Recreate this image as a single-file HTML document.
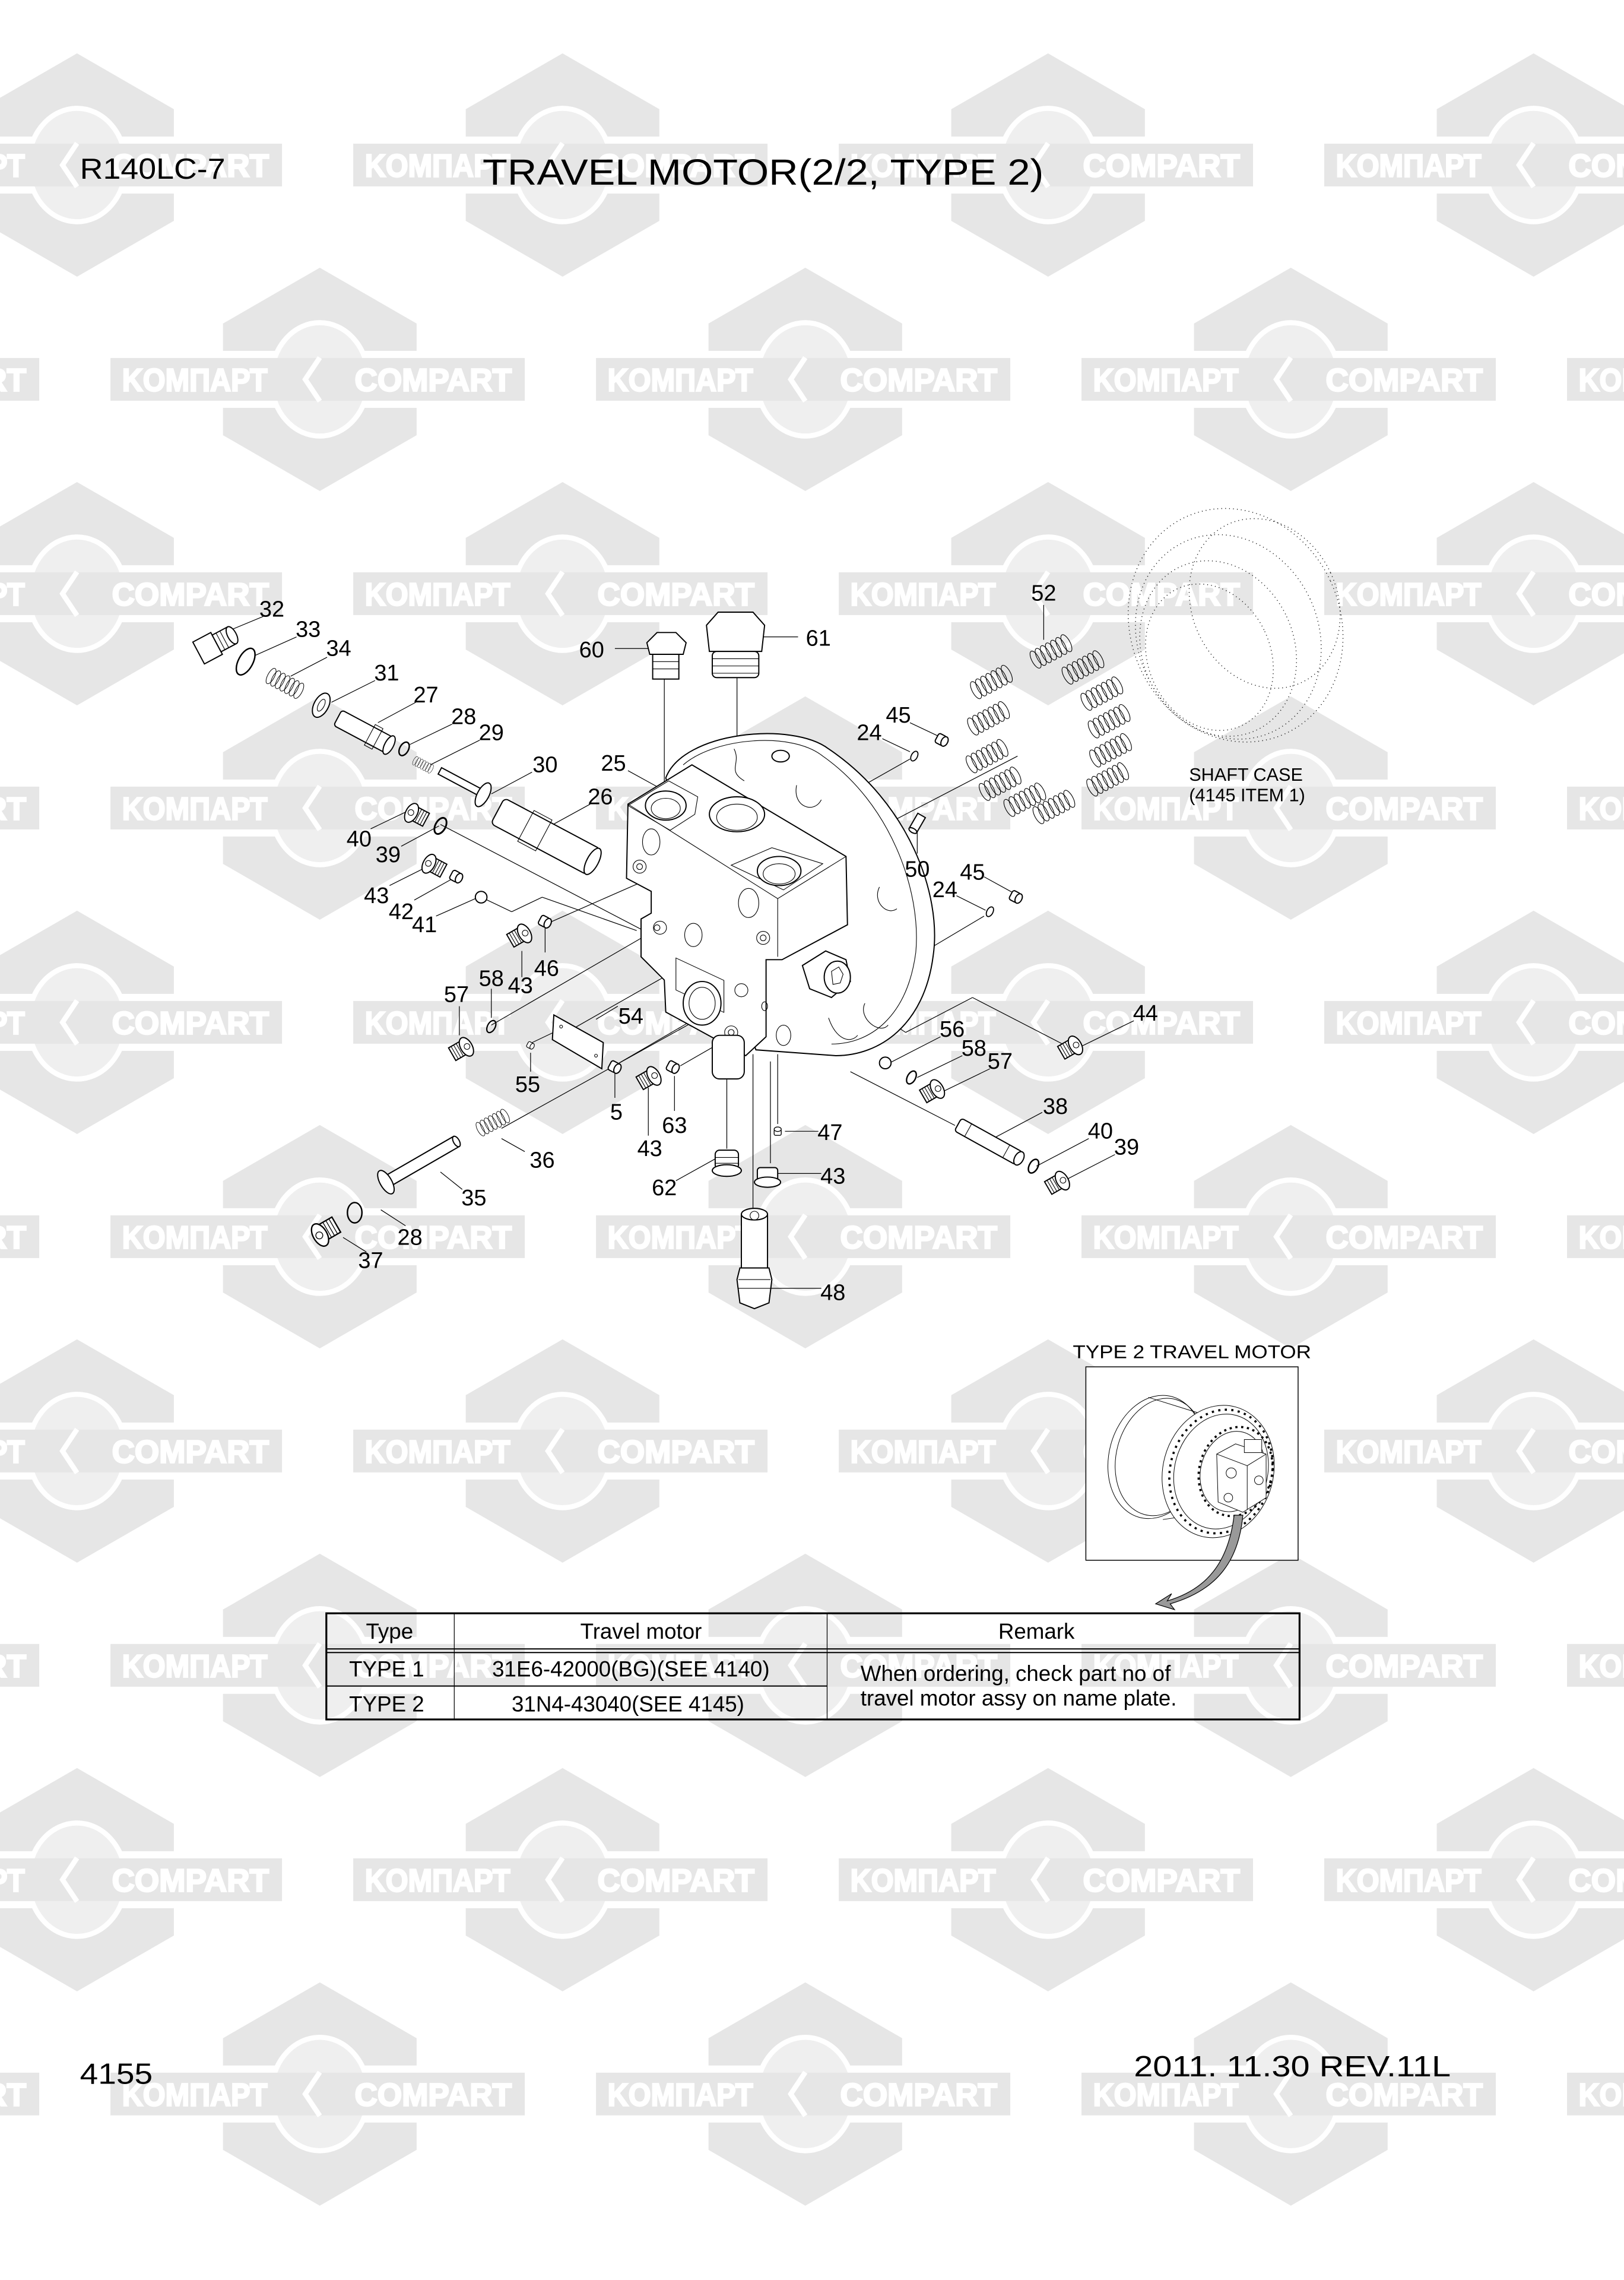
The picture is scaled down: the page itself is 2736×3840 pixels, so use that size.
<!DOCTYPE html>
<html><head><meta charset="utf-8"><style>
html,body{margin:0;padding:0;background:#fff}
svg{display:block}
.wt{font-family:"Liberation Sans Narrow","Liberation Sans",sans-serif;font-weight:bold;font-size:22px;fill:#fff;stroke:#fff;stroke-width:1.1}
.lb{font-family:"Liberation Sans",sans-serif;font-size:15.5px;fill:#000;text-anchor:middle}
.ln{stroke:#000;stroke-width:0.5;fill:none}
.pt{stroke:#000;stroke-width:0.8;fill:#fff}
.tn{stroke:#000;stroke-width:0.45;fill:none}
.tx{font-family:"Liberation Sans",sans-serif;fill:#000}
</style></head><body>
<svg width="2736" height="3840" viewBox="0 0 1117.2 1568" xmlns="http://www.w3.org/2000/svg">
<defs>
<g id="logo">
<polygon points="0,-76.8 66.6,-38.4 66.6,38.4 0,76.8 -66.6,38.4 -66.6,-38.4" fill="#e6e6e6"/>
<rect x="-67" y="-19.6" width="134" height="39.2" fill="#fff"/>
<ellipse cx="0" cy="0" rx="33.5" ry="39" fill="#efefef" stroke="#fff" stroke-width="3.5"/>
<rect x="-144" y="-14.7" width="285" height="29.4" fill="#e6e6e6"/>
<polyline points="0,-15 -10,0 0,15" fill="none" stroke="#fff" stroke-width="3.5"/>
</g>
<g id="spring">
<ellipse cx="-12" cy="0" rx="2.6" ry="6.5" class="tn" stroke-width="0.7"/>
<ellipse cx="-8" cy="0" rx="2.6" ry="6.5" class="tn" stroke-width="0.7"/>
<ellipse cx="-4" cy="0" rx="2.6" ry="6.5" class="tn" stroke-width="0.7"/>
<ellipse cx="0" cy="0" rx="2.6" ry="6.5" class="tn" stroke-width="0.7"/>
<ellipse cx="4" cy="0" rx="2.6" ry="6.5" class="tn" stroke-width="0.7"/>
<ellipse cx="8" cy="0" rx="2.6" ry="6.5" class="tn" stroke-width="0.7"/>
<ellipse cx="12" cy="0" rx="2.6" ry="6.5" class="tn" stroke-width="0.7"/>
</g>
<g id="plug">
<rect x="-8" y="-5" width="10" height="10" class="pt"/>
<line x1="-6" y1="-5" x2="-6" y2="5" class="tn"/><line x1="-4" y1="-5" x2="-4" y2="5" class="tn"/><line x1="-2" y1="-5" x2="-2" y2="5" class="tn"/><line x1="0" y1="-5" x2="0" y2="5" class="tn"/>
<ellipse cx="3" cy="0.5" rx="4" ry="7" class="pt"/>
<circle cx="3.5" cy="0.5" r="2" class="tn"/>
</g>
<g id="oring"><ellipse cx="0" cy="0" rx="3.5" ry="6" fill="none" stroke="#000" stroke-width="1.2"/></g>
<g id="small"><rect x="-4" y="-3.5" width="6" height="7" rx="1.5" class="pt"/><ellipse cx="2" cy="0" rx="2.2" ry="3.5" class="pt"/></g>
</defs>

<!-- watermark -->
<g>
<use href="#logo" x="53" y="113.5"/><use href="#logo" x="387" y="113.5"/><use href="#logo" x="721" y="113.5"/><use href="#logo" x="1055" y="113.5"/>
<use href="#logo" x="-114" y="260.9"/><use href="#logo" x="220" y="260.9"/><use href="#logo" x="554" y="260.9"/><use href="#logo" x="888" y="260.9"/><use href="#logo" x="1222" y="260.9"/>
<use href="#logo" x="53" y="408.3"/><use href="#logo" x="387" y="408.3"/><use href="#logo" x="721" y="408.3"/><use href="#logo" x="1055" y="408.3"/>
<use href="#logo" x="-114" y="555.7"/><use href="#logo" x="220" y="555.7"/><use href="#logo" x="554" y="555.7"/><use href="#logo" x="888" y="555.7"/><use href="#logo" x="1222" y="555.7"/>
<use href="#logo" x="53" y="703.1"/><use href="#logo" x="387" y="703.1"/><use href="#logo" x="721" y="703.1"/><use href="#logo" x="1055" y="703.1"/>
<use href="#logo" x="-114" y="850.5"/><use href="#logo" x="220" y="850.5"/><use href="#logo" x="554" y="850.5"/><use href="#logo" x="888" y="850.5"/><use href="#logo" x="1222" y="850.5"/>
<use href="#logo" x="53" y="997.9"/><use href="#logo" x="387" y="997.9"/><use href="#logo" x="721" y="997.9"/><use href="#logo" x="1055" y="997.9"/>
<use href="#logo" x="-114" y="1145.3"/><use href="#logo" x="220" y="1145.3"/><use href="#logo" x="554" y="1145.3"/><use href="#logo" x="888" y="1145.3"/><use href="#logo" x="1222" y="1145.3"/>
<use href="#logo" x="53" y="1292.7"/><use href="#logo" x="387" y="1292.7"/><use href="#logo" x="721" y="1292.7"/><use href="#logo" x="1055" y="1292.7"/>
<use href="#logo" x="-114" y="1440.1"/><use href="#logo" x="220" y="1440.1"/><use href="#logo" x="554" y="1440.1"/><use href="#logo" x="888" y="1440.1"/><use href="#logo" x="1222" y="1440.1"/>
</g>
<g class="wt">
<text x="-83" y="121.5" textLength="100" lengthAdjust="spacingAndGlyphs">KOMПАРТ</text><text x="77" y="121.5" textLength="108" lengthAdjust="spacingAndGlyphs">COMPART</text>
<text x="251" y="121.5" textLength="100" lengthAdjust="spacingAndGlyphs">KOMПАРТ</text><text x="411" y="121.5" textLength="108" lengthAdjust="spacingAndGlyphs">COMPART</text>
<text x="585" y="121.5" textLength="100" lengthAdjust="spacingAndGlyphs">KOMПАРТ</text><text x="745" y="121.5" textLength="108" lengthAdjust="spacingAndGlyphs">COMPART</text>
<text x="919" y="121.5" textLength="100" lengthAdjust="spacingAndGlyphs">KOMПАРТ</text><text x="1079" y="121.5" textLength="108" lengthAdjust="spacingAndGlyphs">COMPART</text>

<text x="-250" y="268.9" textLength="100" lengthAdjust="spacingAndGlyphs">KOMПАРТ</text><text x="-90" y="268.9" textLength="108" lengthAdjust="spacingAndGlyphs">COMPART</text>
<text x="84" y="268.9" textLength="100" lengthAdjust="spacingAndGlyphs">KOMПАРТ</text><text x="244" y="268.9" textLength="108" lengthAdjust="spacingAndGlyphs">COMPART</text>
<text x="418" y="268.9" textLength="100" lengthAdjust="spacingAndGlyphs">KOMПАРТ</text><text x="578" y="268.9" textLength="108" lengthAdjust="spacingAndGlyphs">COMPART</text>
<text x="752" y="268.9" textLength="100" lengthAdjust="spacingAndGlyphs">KOMПАРТ</text><text x="912" y="268.9" textLength="108" lengthAdjust="spacingAndGlyphs">COMPART</text>
<text x="1086" y="268.9" textLength="100" lengthAdjust="spacingAndGlyphs">KOMПАРТ</text>

<text x="-83" y="416.3" textLength="100" lengthAdjust="spacingAndGlyphs">KOMПАРТ</text><text x="77" y="416.3" textLength="108" lengthAdjust="spacingAndGlyphs">COMPART</text>
<text x="251" y="416.3" textLength="100" lengthAdjust="spacingAndGlyphs">KOMПАРТ</text><text x="411" y="416.3" textLength="108" lengthAdjust="spacingAndGlyphs">COMPART</text>
<text x="585" y="416.3" textLength="100" lengthAdjust="spacingAndGlyphs">KOMПАРТ</text><text x="745" y="416.3" textLength="108" lengthAdjust="spacingAndGlyphs">COMPART</text>
<text x="919" y="416.3" textLength="100" lengthAdjust="spacingAndGlyphs">KOMПАРТ</text><text x="1079" y="416.3" textLength="108" lengthAdjust="spacingAndGlyphs">COMPART</text>

<text x="-250" y="563.7" textLength="100" lengthAdjust="spacingAndGlyphs">KOMПАРТ</text><text x="-90" y="563.7" textLength="108" lengthAdjust="spacingAndGlyphs">COMPART</text>
<text x="84" y="563.7" textLength="100" lengthAdjust="spacingAndGlyphs">KOMПАРТ</text><text x="244" y="563.7" textLength="108" lengthAdjust="spacingAndGlyphs">COMPART</text>
<text x="418" y="563.7" textLength="100" lengthAdjust="spacingAndGlyphs">KOMПАРТ</text><text x="578" y="563.7" textLength="108" lengthAdjust="spacingAndGlyphs">COMPART</text>
<text x="752" y="563.7" textLength="100" lengthAdjust="spacingAndGlyphs">KOMПАРТ</text><text x="912" y="563.7" textLength="108" lengthAdjust="spacingAndGlyphs">COMPART</text>
<text x="1086" y="563.7" textLength="100" lengthAdjust="spacingAndGlyphs">KOMПАРТ</text>

<text x="-83" y="711.1" textLength="100" lengthAdjust="spacingAndGlyphs">KOMПАРТ</text><text x="77" y="711.1" textLength="108" lengthAdjust="spacingAndGlyphs">COMPART</text>
<text x="251" y="711.1" textLength="100" lengthAdjust="spacingAndGlyphs">KOMПАРТ</text><text x="411" y="711.1" textLength="108" lengthAdjust="spacingAndGlyphs">COMPART</text>
<text x="585" y="711.1" textLength="100" lengthAdjust="spacingAndGlyphs">KOMПАРТ</text><text x="745" y="711.1" textLength="108" lengthAdjust="spacingAndGlyphs">COMPART</text>
<text x="919" y="711.1" textLength="100" lengthAdjust="spacingAndGlyphs">KOMПАРТ</text><text x="1079" y="711.1" textLength="108" lengthAdjust="spacingAndGlyphs">COMPART</text>

<text x="-250" y="858.5" textLength="100" lengthAdjust="spacingAndGlyphs">KOMПАРТ</text><text x="-90" y="858.5" textLength="108" lengthAdjust="spacingAndGlyphs">COMPART</text>
<text x="84" y="858.5" textLength="100" lengthAdjust="spacingAndGlyphs">KOMПАРТ</text><text x="244" y="858.5" textLength="108" lengthAdjust="spacingAndGlyphs">COMPART</text>
<text x="418" y="858.5" textLength="100" lengthAdjust="spacingAndGlyphs">KOMПАРТ</text><text x="578" y="858.5" textLength="108" lengthAdjust="spacingAndGlyphs">COMPART</text>
<text x="752" y="858.5" textLength="100" lengthAdjust="spacingAndGlyphs">KOMПАРТ</text><text x="912" y="858.5" textLength="108" lengthAdjust="spacingAndGlyphs">COMPART</text>
<text x="1086" y="858.5" textLength="100" lengthAdjust="spacingAndGlyphs">KOMПАРТ</text>

<text x="-83" y="1005.9" textLength="100" lengthAdjust="spacingAndGlyphs">KOMПАРТ</text><text x="77" y="1005.9" textLength="108" lengthAdjust="spacingAndGlyphs">COMPART</text>
<text x="251" y="1005.9" textLength="100" lengthAdjust="spacingAndGlyphs">KOMПАРТ</text><text x="411" y="1005.9" textLength="108" lengthAdjust="spacingAndGlyphs">COMPART</text>
<text x="585" y="1005.9" textLength="100" lengthAdjust="spacingAndGlyphs">KOMПАРТ</text><text x="745" y="1005.9" textLength="108" lengthAdjust="spacingAndGlyphs">COMPART</text>
<text x="919" y="1005.9" textLength="100" lengthAdjust="spacingAndGlyphs">KOMПАРТ</text><text x="1079" y="1005.9" textLength="108" lengthAdjust="spacingAndGlyphs">COMPART</text>

<text x="-250" y="1153.3" textLength="100" lengthAdjust="spacingAndGlyphs">KOMПАРТ</text><text x="-90" y="1153.3" textLength="108" lengthAdjust="spacingAndGlyphs">COMPART</text>
<text x="84" y="1153.3" textLength="100" lengthAdjust="spacingAndGlyphs">KOMПАРТ</text><text x="244" y="1153.3" textLength="108" lengthAdjust="spacingAndGlyphs">COMPART</text>
<text x="418" y="1153.3" textLength="100" lengthAdjust="spacingAndGlyphs">KOMПАРТ</text><text x="578" y="1153.3" textLength="108" lengthAdjust="spacingAndGlyphs">COMPART</text>
<text x="752" y="1153.3" textLength="100" lengthAdjust="spacingAndGlyphs">KOMПАРТ</text><text x="912" y="1153.3" textLength="108" lengthAdjust="spacingAndGlyphs">COMPART</text>
<text x="1086" y="1153.3" textLength="100" lengthAdjust="spacingAndGlyphs">KOMПАРТ</text>

<text x="-83" y="1300.7" textLength="100" lengthAdjust="spacingAndGlyphs">KOMПАРТ</text><text x="77" y="1300.7" textLength="108" lengthAdjust="spacingAndGlyphs">COMPART</text>
<text x="251" y="1300.7" textLength="100" lengthAdjust="spacingAndGlyphs">KOMПАРТ</text><text x="411" y="1300.7" textLength="108" lengthAdjust="spacingAndGlyphs">COMPART</text>
<text x="585" y="1300.7" textLength="100" lengthAdjust="spacingAndGlyphs">KOMПАРТ</text><text x="745" y="1300.7" textLength="108" lengthAdjust="spacingAndGlyphs">COMPART</text>
<text x="919" y="1300.7" textLength="100" lengthAdjust="spacingAndGlyphs">KOMПАРТ</text><text x="1079" y="1300.7" textLength="108" lengthAdjust="spacingAndGlyphs">COMPART</text>

<text x="-250" y="1448.1" textLength="100" lengthAdjust="spacingAndGlyphs">KOMПАРТ</text><text x="-90" y="1448.1" textLength="108" lengthAdjust="spacingAndGlyphs">COMPART</text>
<text x="84" y="1448.1" textLength="100" lengthAdjust="spacingAndGlyphs">KOMПАРТ</text><text x="244" y="1448.1" textLength="108" lengthAdjust="spacingAndGlyphs">COMPART</text>
<text x="418" y="1448.1" textLength="100" lengthAdjust="spacingAndGlyphs">KOMПАРТ</text><text x="578" y="1448.1" textLength="108" lengthAdjust="spacingAndGlyphs">COMPART</text>
<text x="752" y="1448.1" textLength="100" lengthAdjust="spacingAndGlyphs">KOMПАРТ</text><text x="912" y="1448.1" textLength="108" lengthAdjust="spacingAndGlyphs">COMPART</text>
<text x="1086" y="1448.1" textLength="100" lengthAdjust="spacingAndGlyphs">KOMПАРТ</text>
</g>

<!-- header / footer -->
<text class="tx" x="55" y="123" font-size="20" textLength="100" lengthAdjust="spacingAndGlyphs">R140LC-7</text>
<text class="tx" x="332" y="127" font-size="25" textLength="386" lengthAdjust="spacingAndGlyphs">TRAVEL MOTOR(2/2, TYPE 2)</text>
<text class="tx" x="55" y="1433" font-size="20" textLength="50" lengthAdjust="spacingAndGlyphs">4155</text>
<text class="tx" x="780" y="1428" font-size="20" textLength="218" lengthAdjust="spacingAndGlyphs">2011. 11.30  REV.11L</text>

<!-- shaft case dotted -->
<g fill="none" stroke="#111" stroke-width="0.6" stroke-dasharray="0.5 2.2">
<ellipse cx="850" cy="430" rx="72" ry="82" transform="rotate(-25 850 430)"/>
<ellipse cx="845" cy="438" rx="62" ry="72" transform="rotate(-25 845 438)"/>
<ellipse cx="838" cy="446" rx="52" ry="62" transform="rotate(-25 838 446)"/>
<ellipse cx="832" cy="452" rx="42" ry="52" transform="rotate(-25 832 452)"/>
<ellipse cx="870" cy="415" rx="50" ry="60" transform="rotate(-25 870 415)"/>
</g>
<text class="tx" x="818" y="537" font-size="12.5">SHAFT CASE</text>
<text class="tx" x="818" y="551" font-size="12.5">(4145 ITEM 1)</text>

<!-- leader lines -->
<g class="ln">
<line x1="181" y1="424" x2="152" y2="436"/>
<line x1="204" y1="438" x2="175" y2="451"/>
<line x1="225" y1="452" x2="200" y2="465"/>
<line x1="258" y1="468" x2="228" y2="483"/>
<line x1="286" y1="483" x2="260" y2="497"/>
<line x1="311" y1="498" x2="282" y2="512"/>
<line x1="330" y1="509" x2="296" y2="526"/>
<line x1="366" y1="531" x2="338" y2="546"/>
<line x1="406" y1="553" x2="375" y2="570"/>
<line x1="432" y1="530" x2="452" y2="541"/>
<line x1="255" y1="570" x2="280" y2="558"/>
<line x1="276" y1="582" x2="302" y2="568"/>
<line x1="268" y1="609" x2="294" y2="596"/>
<line x1="285" y1="619" x2="310" y2="605"/>
<line x1="300" y1="630" x2="327" y2="618"/>
<line x1="303" y1="567" x2="483" y2="661"/>
<line x1="331" y1="617" x2="352" y2="627"/><line x1="352" y1="627" x2="373" y2="617"/><line x1="373" y1="617" x2="438" y2="640"/>
<line x1="379" y1="634" x2="445" y2="605"/>
<line x1="359" y1="654" x2="359" y2="672"/>
<line x1="375" y1="638" x2="375" y2="655"/>
<line x1="338" y1="680" x2="338" y2="700"/>
<line x1="316" y1="692" x2="316" y2="712"/>
<line x1="338" y1="705" x2="450" y2="640"/>
<line x1="425" y1="692" x2="410" y2="701"/>
<line x1="395" y1="707" x2="476" y2="661"/>
<line x1="365" y1="737" x2="365" y2="724"/>
<line x1="364" y1="718" x2="385" y2="708"/>
<line x1="423" y1="755" x2="423" y2="738"/>
<line x1="426" y1="731" x2="510" y2="682"/>
<line x1="446" y1="781" x2="446" y2="748"/>
<line x1="464" y1="764" x2="464" y2="740"/>
<line x1="468" y1="733" x2="515" y2="706"/>
<line x1="361" y1="792" x2="345" y2="783"/>
<line x1="345" y1="776" x2="500" y2="690"/>
<line x1="318" y1="818" x2="303" y2="806"/>
<line x1="279" y1="843" x2="262" y2="832"/>
<line x1="252" y1="861" x2="236" y2="851"/>
<line x1="423" y1="446" x2="447" y2="446"/>
<line x1="457" y1="465" x2="457" y2="555"/>
<line x1="549" y1="438" x2="525" y2="438"/>
<line x1="507" y1="460" x2="507" y2="565"/>
<line x1="718" y1="416" x2="718" y2="440"/>
<line x1="626" y1="497" x2="645" y2="506"/>
<line x1="607" y1="508" x2="626" y2="517"/>
<line x1="626" y1="522" x2="580" y2="548"/>
<line x1="700" y1="520" x2="598" y2="573"/>
<line x1="631" y1="587" x2="631" y2="570"/>
<line x1="677" y1="603" x2="697" y2="614"/>
<line x1="658" y1="616" x2="678" y2="626"/>
<line x1="677" y1="630" x2="640" y2="652"/>
<line x1="780" y1="702" x2="743" y2="720"/>
<line x1="731" y1="718" x2="669" y2="686"/><line x1="669" y1="686" x2="623" y2="710"/><line x1="623" y1="710" x2="590" y2="688"/>
<line x1="647" y1="713" x2="612" y2="731"/>
<line x1="662" y1="726" x2="631" y2="741"/>
<line x1="681" y1="735" x2="648" y2="751"/>
<line x1="657" y1="774" x2="585" y2="737"/>
<line x1="717" y1="765" x2="685" y2="782"/>
<line x1="749" y1="783" x2="713" y2="802"/>
<line x1="767" y1="794" x2="730" y2="813"/>
<line x1="563" y1="778" x2="540" y2="778"/>
<line x1="535" y1="773" x2="535" y2="725"/>
<line x1="565" y1="807" x2="535" y2="807"/>
<line x1="530" y1="800" x2="530" y2="730"/>
<line x1="465" y1="812" x2="492" y2="797"/>
<line x1="500" y1="790" x2="500" y2="725"/>
<line x1="518" y1="833" x2="518" y2="725"/>
<line x1="565" y1="886" x2="528" y2="886"/>
</g>

<!-- flange -->
<path class="pt" d="M458,535 C470,503 545,496 570,515 C625,552 648,615 642,657 C636,705 605,726 575,726 L520,722 Z"/>
<path class="tn" d="M470,526 C492,507 545,503 566,520 C612,552 634,612 630,655 C624,700 598,718 572,718"/>
<ellipse class="pt" cx="537" cy="520" rx="6" ry="4"/>
<path class="tn" d="M505,515 C510,525 500,530 512,537"/><path class="tn" d="M548,540 C545,555 560,560 565,550"/>
<path class="tn" d="M605,610 C600,620 610,630 617,625"/><path class="tn" d="M595,690 C590,700 605,712 611,705"/>
<path class="tn" d="M570,700 C575,715 585,718 590,712"/>

<!-- block -->
<path class="pt" d="M432,553 L476,526 L582,589 L583,636 L538,660 L527,660 L527,713 L513,726 L458,696 L457,674 L441,658 L441,632 L448,628 L448,613 L431,604 Z"/>
<path class="tn" d="M432,553 L535,618 L582,589"/>
<line class="tn" x1="535" y1="618" x2="535" y2="658"/>
<polygon class="tn" points="432,554 460,537 480,548 478,560 461,571 "/>
<ellipse class="pt" cx="458" cy="554" rx="14" ry="10"/><ellipse class="tn" cx="458" cy="556" rx="10" ry="7"/>
<ellipse class="pt" cx="507" cy="560" rx="19" ry="12"/><ellipse class="tn" cx="507" cy="562" rx="14" ry="9"/>
<polygon class="tn" points="503,595 531,583 566,594 539,612"/>
<ellipse class="pt" cx="536" cy="599" rx="15" ry="10"/><ellipse class="tn" cx="536" cy="601" rx="11" ry="7"/>
<ellipse class="tn" cx="448" cy="579" rx="6" ry="9"/>
<circle class="tn" cx="440" cy="596" r="4.5"/><circle class="tn" cx="440" cy="596" r="2"/>
<ellipse class="tn" cx="515" cy="621" rx="7" ry="10"/>
<circle class="tn" cx="454" cy="638" r="4.5"/><circle class="tn" cx="452" cy="638" r="2"/>
<ellipse class="tn" cx="477" cy="643" rx="6" ry="8"/>
<circle class="tn" cx="525" cy="645" r="4.5"/><circle class="tn" cx="525" cy="645" r="2"/>
<rect class="tn" x="465" y="660" width="33" height="22" transform="skewY(25) translate(0,-218)"/>
<circle class="tn" cx="510" cy="681" r="4.5"/>
<ellipse class="pt" cx="483" cy="690" rx="13" ry="15"/><ellipse class="tn" cx="483" cy="690" rx="9" ry="11"/>
<circle class="tn" cx="503" cy="710" r="4.5"/><circle class="tn" cx="503" cy="710" r="2"/>
<rect class="pt" x="490" y="712" width="22" height="30" rx="5"/>
<polygon class="pt" points="552,664 568,654 582,660 585,675 572,686 557,680"/>
<ellipse class="pt" cx="576" cy="672" rx="9" ry="11"/><polygon class="tn" points="572,668 577,665 580,670 578,676 573,677"/>
<ellipse class="tn" cx="539" cy="712" rx="5" ry="7"/><ellipse class="tn" cx="526" cy="692" rx="2" ry="3"/>

<!-- left side parts -->
<g transform="rotate(-28 147 443)">
<rect class="pt" x="135" y="435" width="14" height="17"/><rect class="pt" x="149" y="437" width="12" height="13"/>
<line class="tn" x1="152" y1="437" x2="152" y2="450"/><line class="tn" x1="155" y1="437" x2="155" y2="450"/>
<ellipse class="pt" cx="161" cy="443.5" rx="3" ry="6.5"/>
</g>
<ellipse cx="169" cy="455" rx="5" ry="10" fill="none" stroke="#000" stroke-width="1" transform="rotate(28 169 455)"/>
<use href="#spring" transform="translate(196,470) rotate(28) scale(0.9)"/>
<ellipse class="pt" cx="221" cy="485" rx="5" ry="9" transform="rotate(28 221 485)"/><ellipse class="tn" cx="221" cy="485" rx="2" ry="4.5" transform="rotate(28 221 485)"/>
<g transform="rotate(28 250 503)"><rect class="pt" x="230" y="497" width="40" height="12" rx="2"/><rect class="tn" x="255" y="495" width="6" height="16"/><ellipse class="pt" cx="270" cy="503" rx="3" ry="7"/></g>
<ellipse cx="278" cy="515" rx="3" ry="5" fill="none" stroke="#000" stroke-width="1" transform="rotate(28 278 515)"/>
<use href="#spring" transform="translate(291,526) rotate(28) scale(0.5)"/>
<g transform="rotate(28 320 540)"><rect class="pt" x="300" y="537" width="36" height="5"/><ellipse class="pt" cx="334" cy="540" rx="4" ry="9"/></g>
<g transform="rotate(28 375 575)"><rect class="pt" x="338" y="565" width="75" height="20" rx="3"/><rect class="tn" x="360" y="563" width="14" height="24"/><ellipse class="pt" cx="412" cy="575" rx="4" ry="10"/></g>
<use href="#plug" transform="translate(286,560) rotate(28) scale(-1,1)"/>
<use href="#oring" transform="translate(303,568) rotate(28)"/>
<use href="#plug" transform="translate(298,595) rotate(28) scale(-1,1)"/>
<use href="#small" transform="translate(314,603) rotate(28)"/>
<circle class="pt" cx="331" cy="617" r="4"/>
<use href="#plug" transform="translate(358,643) rotate(-30)"/>
<use href="#small" transform="translate(375,634) rotate(28)"/>
<use href="#oring" transform="translate(338,706) rotate(28) scale(0.75)"/>
<use href="#plug" transform="translate(318,721) rotate(-30)"/>
<polygon class="pt" points="381,698 415,717 414,735 380,715"/>
<circle class="tn" cx="386" cy="706" r="1"/><circle class="tn" cx="410" cy="726" r="1"/>
<use href="#small" transform="translate(365,719) rotate(28) scale(0.6)"/>
<use href="#small" transform="translate(423,734) rotate(28)"/>
<use href="#plug" transform="translate(447,741) rotate(-30)"/>
<use href="#small" transform="translate(463,734) rotate(28)"/>
<use href="#spring" transform="translate(339,772) rotate(-28) scale(0.8)"/>
<g transform="rotate(-30 288 800)"><rect class="pt" x="262" y="796" width="56" height="8"/><ellipse class="pt" cx="318" cy="800" rx="2" ry="4"/><ellipse class="pt" cx="262" cy="800" rx="4" ry="9"/></g>
<ellipse cx="244" cy="834" rx="5" ry="7" fill="none" stroke="#000" stroke-width="1"/>
<use href="#plug" transform="translate(223,847) rotate(-30) scale(-1.2,1.2)"/>

<!-- top plugs -->
<g><polygon class="pt" points="445,442 452,435 465,435 472,442 470,450 447,450"/><rect class="pt" x="449" y="450" width="18" height="17"/><line class="tn" x1="449" y1="455" x2="467" y2="455"/><line class="tn" x1="449" y1="460" x2="467" y2="460"/></g>
<g><polygon class="pt" points="486,430 494,421 518,421 526,430 524,448 488,448"/><rect class="pt" x="490" y="448" width="32" height="18" rx="3"/><line class="tn" x1="490" y1="453" x2="522" y2="453"/><line class="tn" x1="490" y1="458" x2="522" y2="458"/><line class="tn" x1="490" y1="463" x2="522" y2="463"/></g>

<!-- springs 52 -->
<use href="#spring" transform="translate(682,469) rotate(-28)"/>
<use href="#spring" transform="translate(680,494) rotate(-28)"/>
<use href="#spring" transform="translate(679,520) rotate(-28)"/>
<use href="#spring" transform="translate(688,539) rotate(-28)"/>
<use href="#spring" transform="translate(705,550) rotate(-28)"/>
<use href="#spring" transform="translate(725,555) rotate(-28)"/>
<use href="#spring" transform="translate(723,448) rotate(-28)"/>
<use href="#spring" transform="translate(745,459) rotate(-28)"/>
<use href="#spring" transform="translate(758,477) rotate(-28)"/>
<use href="#spring" transform="translate(763,496) rotate(-28)"/>
<use href="#spring" transform="translate(764,516) rotate(-28)"/>
<use href="#spring" transform="translate(762,536) rotate(-28)"/>

<!-- right parts -->
<use href="#small" transform="translate(648,509) rotate(28)"/>
<use href="#oring" transform="translate(629,520) rotate(28) scale(0.6)"/>
<g transform="rotate(-60 631 566)"><rect class="pt" x="625" y="563" width="12" height="6"/><ellipse class="pt" cx="625" cy="566" rx="1.5" ry="3"/></g>
<use href="#small" transform="translate(699,617) rotate(28)"/>
<use href="#oring" transform="translate(681,627) rotate(28) scale(0.6)"/>
<use href="#plug" transform="translate(737,720) rotate(-30)"/>
<circle class="pt" cx="609" cy="731" r="4"/>
<use href="#oring" transform="translate(627,741) rotate(28) scale(0.8)"/>
<use href="#plug" transform="translate(642,750) rotate(-30)"/>
<g transform="rotate(29 680 785)"><rect class="pt" x="656" y="780" width="48" height="10" rx="2"/><ellipse class="pt" cx="704" cy="785" rx="3" ry="5"/><line class="tn" x1="664" y1="780" x2="664" y2="790"/><line class="tn" x1="694" y1="780" x2="694" y2="790"/></g>
<use href="#oring" transform="translate(711,802) rotate(28) scale(0.85)"/>
<use href="#plug" transform="translate(728,813) rotate(-30)"/>
<use href="#small" transform="translate(535,778) rotate(-90) scale(0.7)"/>
<g><rect class="pt" x="521" y="803" width="14" height="10" rx="2"/><ellipse class="pt" cx="528" cy="813" rx="9" ry="3.5"/></g>
<g><rect class="pt" x="492" y="791" width="16" height="13" rx="3"/><ellipse class="pt" cx="500" cy="805" rx="10" ry="4"/><line class="tn" x1="492" y1="796" x2="508" y2="796"/><line class="tn" x1="492" y1="800" x2="508" y2="800"/></g>
<g><rect class="pt" x="510" y="835" width="18" height="40"/><ellipse class="pt" cx="519" cy="835" rx="9" ry="4"/><circle class="tn" cx="519" cy="836" r="3"/>
<polygon class="pt" points="509,872 529,872 531,880 529,896 519,900 509,896 507,880"/><line class="tn" x1="508" y1="880" x2="530" y2="880"/><line class="tn" x1="508" y1="886" x2="530" y2="886"/></g>

<!-- labels -->
<g class="lb">
<text x="187" y="424">32</text><text x="212" y="438">33</text><text x="233" y="451">34</text><text x="266" y="468">31</text>
<text x="293" y="483">27</text><text x="319" y="498">28</text><text x="338" y="509">29</text><text x="375" y="531">30</text>
<text x="422" y="530">25</text><text x="413" y="553">26</text><text x="247" y="582">40</text><text x="267" y="593">39</text>
<text x="259" y="621">43</text><text x="276" y="632">42</text><text x="292" y="641">41</text><text x="358" y="683">43</text>
<text x="376" y="671">46</text><text x="338" y="678">58</text><text x="314" y="689">57</text><text x="434" y="704">54</text>
<text x="363" y="751">55</text><text x="424" y="770">5</text><text x="447" y="795">43</text><text x="464" y="779">63</text>
<text x="373" y="803">36</text><text x="326" y="829">35</text><text x="282" y="856">28</text><text x="255" y="872">37</text>
<text x="407" y="452">60</text><text x="563" y="444">61</text><text x="718" y="413">52</text><text x="618" y="497">45</text>
<text x="598" y="509">24</text><text x="631" y="603">50</text><text x="669" y="605">45</text><text x="650" y="617">24</text>
<text x="788" y="702">44</text><text x="655" y="713">56</text><text x="670" y="726">58</text><text x="688" y="735">57</text>
<text x="726" y="766">38</text><text x="757" y="783">40</text><text x="775" y="794">39</text><text x="571" y="784">47</text>
<text x="573" y="814">43</text><text x="457" y="822">62</text><text x="573" y="894">48</text>
</g>

<!-- inset -->
<text class="tx" x="738" y="934" font-size="13" textLength="164" lengthAdjust="spacingAndGlyphs">TYPE 2 TRAVEL MOTOR</text>
<rect x="747" y="940" width="146" height="133" fill="#fff" stroke="#000" stroke-width="0.6"/>
<g fill="none" stroke="#000" stroke-width="0.4">
<ellipse cx="795" cy="1002" rx="32" ry="43" transform="rotate(15 795 1002)"/>
<ellipse cx="798" cy="1002" rx="30" ry="41" transform="rotate(15 798 1002)"/>
<path d="M790,961 L835,975 M800,1045 L835,1040"/>
<ellipse cx="838" cy="1012" rx="38" ry="46" fill="#fff" transform="rotate(15 838 1012)"/>
<ellipse cx="840" cy="1012" rx="32" ry="40" transform="rotate(15 840 1012)"/>
<ellipse cx="848" cy="1012" rx="22" ry="28" transform="rotate(15 848 1012)"/>
<ellipse cx="840" cy="1012" rx="35" ry="43" stroke-dasharray="1.5 3" stroke-width="1.5" transform="rotate(15 840 1012)"/>
<ellipse cx="850" cy="1012" rx="25" ry="31" stroke-dasharray="1.5 2.5" stroke-width="1.5" transform="rotate(15 850 1012)"/>
<polygon points="837,1000 850,993 871,1000 871,1030 855,1040 838,1033" fill="#fff"/>
<line x1="837" y1="1000" x2="858" y2="1008"/><line x1="858" y1="1008" x2="871" y2="1000"/><line x1="858" y1="1008" x2="858" y2="1038"/>
<circle cx="847" cy="1013" r="3.5"/><circle cx="845" cy="1030" r="3"/><circle cx="866" cy="1018" r="3"/>
<rect x="856" y="990" width="12" height="9" fill="#fff"/>
</g>
<path d="M849,1042 C845,1075 830,1093 803,1101 L806,1096 L795,1103 L808,1107 L805,1103 C836,1094 852,1075 855,1042 Z" fill="#999" stroke="#000" stroke-width="0.5"/>

<!-- table -->
<g stroke="#000" fill="none">
<rect x="224.5" y="1109.5" width="669.5" height="73" stroke-width="1.3"/>
<line x1="224.5" y1="1134" x2="894" y2="1134" stroke-width="0.8"/>
<line x1="224.5" y1="1136.5" x2="894" y2="1136.5" stroke-width="0.8"/>
<line x1="224.5" y1="1159.5" x2="569" y2="1159.5" stroke-width="0.8"/>
<line x1="312.5" y1="1109.5" x2="312.5" y2="1182.5" stroke-width="0.5"/>
<line x1="569" y1="1109.5" x2="569" y2="1182.5" stroke-width="0.5"/>
</g>
<g class="tx" font-size="15" text-anchor="middle">
<text x="268" y="1127">Type</text><text x="441" y="1127">Travel motor</text><text x="713" y="1127">Remark</text>
<text x="266" y="1153">TYPE 1</text><text x="434" y="1153">31E6-42000(BG)(SEE 4140)</text>
<text x="266" y="1177">TYPE 2</text><text x="432" y="1177">31N4-43040(SEE 4145)</text>
</g>
<text class="tx" x="592" y="1156" font-size="15">When ordering, check part no of</text>
<text class="tx" x="592" y="1173" font-size="15">travel motor assy on name plate.</text>
</svg>
</body></html>
